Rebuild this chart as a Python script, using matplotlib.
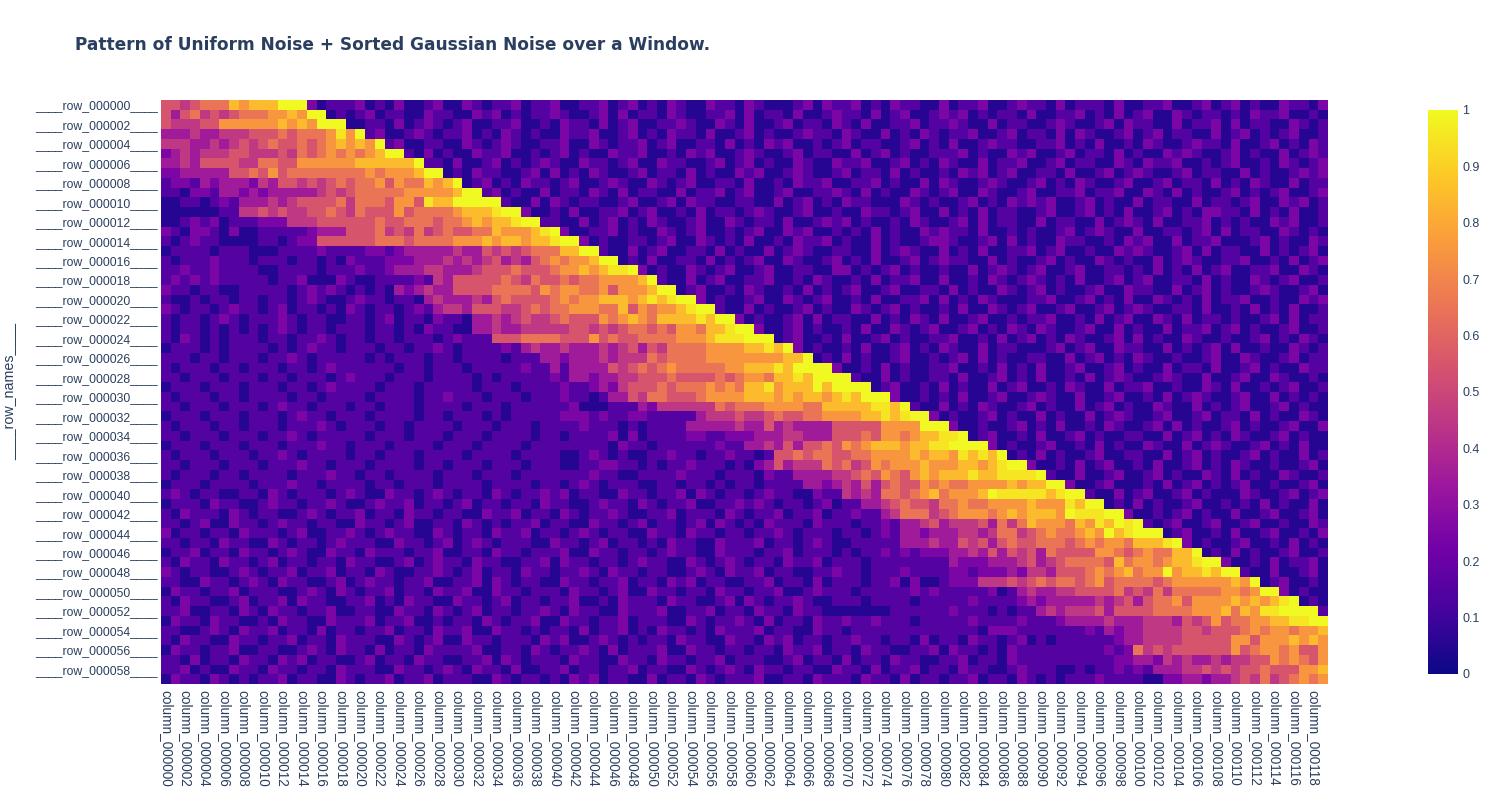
import matplotlib
matplotlib.use("Agg")
import matplotlib.pyplot as plt
import numpy as np
from matplotlib.colors import LinearSegmentedColormap

W, H = 1500, 800
TITLE = "Pattern of Uniform Noise + Sorted Gaussian Noise over a Window."
Y_TITLE = "____row_names____"
PLASMA = ["#0d0887", "#46039f", "#7201a8", "#9c179e", "#bd3786",
          "#d8576b", "#ed7953", "#fb9f3a", "#fdca26", "#f0f921"]
INK = "#2a3f5f"

# One character per cell: digit d = d/10 + 0.05, a = 1.0.
# Left of "|": columns up to the bright edge. Right of "|": the cells after it.
ROWS = """
5545666878 88aaa | 20111 2010200120 0210112011 2001120120 1021002110 2100012021 1201021100 2011200121 1020111020 0112001201 2010021102
5356454566 67787aa | 010 1201100211 0021201011 2100120201 1021001120 2011020012 1102012001 2120101102 0011201020 1200210110 1021120010
5444557777 778787aaa | 0 0110201210 1200112001 0211020120 0112100210 2001201102 1020011201 1210020110 0121001202 1100201120 2011002101
3334334445 5565666797 a | 120012101 1201021010 0211200120 1021102001 2010012110 2100201021 0112001201 1020210012 0120110020 1201012001
4443343454 5655656787 87a | 1200110 0210121001 1200210112 0120011020 1021200101 2011001201 0200121100 1120102001 0210012110 2001201021
2343444554 4454656767 678aa | 10201 0021120010 1201002112 0010212001 2100120110 0201201001 1120100212 0012011020 1002121001 2010020121
3343555544 6655777777 888888a | 110 2001201012 1002110120 0211001201 2010021002 1120012010 2100201120 0120110021 0211200101 2001021012
2233333556 5756666666 6767778aa | 0 1021100120 2010210012 0110201002 1200121001 2011020100 1021201200 1102001201 2100120110 0201001212
1221323332 4355454565 6675766878 a | 012010211 0120012100 2101200110 2001021120 0112010020 2100121001 2010210012 0012011020 1021002011
1102213323 2333334545 6666677777 8aa | 1201002 0110210201 1002011201 2001200112 1020100210 1200210012 0011201120 0210201001 2010120012
0011012133 3434555564 6665775988 aaaaa | 10020 2101100120 0120211001 1002012010 2110002101 0012010212 1200120100 2011002011 0120021201
0000001144 5454455654 6555756666 78889aa | 200 1020011201 2001020110 1210012001 0021101200 2010201100 1200120102 0012010221 1020102001
0012120111 2224445555 5565566656 6787889aa | 1 1002012010 2100120021 0110200121 2010010210 0120201100 2011002012 1020011201 0100212001
2102210200 1111123335 5564546456 5566877789 a | 200112010 0210120010 1200212001 0102010021 2110200101 0012012100 2001101202 0110021010
1012110000 1101225555 5566656666 7778788788 9aa | 2010011 0120021010 2001021120 1002010012 2100120201 0021100102 1200201120 0012010021
0111101110 0011112111 1221233333 4335454566 688aa | 10020 1200110201 0020121001 1002012100 2010200112 0120010021 2100120201 1002010120
1011121110 1110110102 1112223334 3434534356 76778aa | 010 2001102010 1200210012 0102001201 2110020100 1201002101 0020121001 1200102012
1121121111 0011110111 2112333443 3345556555 67787899a | 2 0100210120 0120011002 2010120100 1002012101 2001200110 1020102012 0011200210
1212121111 1011200021 0011112143 5555565465 5656677778 a | 100201200 1120010210 0102011200 2001021012 1010200120 1200110201 0021012001
2110110011 1110121210 1010323433 5555666657 6776675777 8aa | 0120010 2100102010 1200120011 0201002101 2010012002 1100201201 0012100120
1001011011 0110121001 2110110343 3343565555 6767788878 989aa | 20100 1200210120 0102001120 2010210001 1200120102 0021010201 1200100212
2101101211 0120110102 1011012134 4355544565 6677766857 6778 9aa | 100 2010012010 0210120100 1020021012 0012001201 2100110200 1020102001
1011012101 1121011001 1012011021 1033434544 5655576787 688889 8aa | 2 0100120201 1002010210 2001200101 1200102012 0021020110 1001202011
1011010101 0121011011 1011010211 0033433444 4455454566 565776889a a | 200120100 1020021012 0012010210 2100120020 1002011201 2010012001
1021010111 0110112101 1011011101 2111555666 6555756556 6667778999 aaa | 0120010 2001201001 1200102012 0102100120 2010021001 0012010210
0111010111 1010121101 1101101121 0111121343 3433343453 5466667777 8898a | 20100 1020012010 2100201100 0120120021 1002010120 2001002101
1110110111 0112101111 1010111011 0111101113 3233343444 6566667777 777788a | 010 2010012001 0120201001 1002012010 2100100120 0210012011
1011101101 1101101211 1111011011 1011111211 3133335456 5676666677 88898aaaa | 2 0010201001 1200102010 2001200120 1002011020 0120100211
1101110111 0110111012 1110111011 1101011111 2133233445 5565555656 7768898aaa a | 100201001 1020012010 2001020121 0012100200 1200210010
0111011101 1101101211 1101110111 1101110111 1211232455 5656667676 8897888a8a aaa | 0120010 2010020120 0102100201 1200100210 2001012001
1011101101 1110110111 1011110112 1110111011 1211013354 6655567777 8887878878 98aaa | 20010 1020012001 2100200120 0102012100 1200201010
1101110111 0121101110 1101110111 1011101111 1120001113 2444444656 6677776688 888998a | 100 2010210012 0100201201 0021002010 1200120100
0111011101 1101211011 1011110110 1110101111 1222121122 1111134445 4456556677 7788989aa | 2 0100120100 2010020121 0012001201 1020100210
1011101101 1101112101 1101101111 0111011101 1112111010 1111333334 3353433335 5555777 7aa a | 200100120 1020010210 0120201001 2010012002
1101110111 0112101111 1011101110 1110111101 1011112020 1111221122 2333443335 5565776788 99a | 0120010 2001201001 1002012010 2100120100
0111011101 1101112110 1110111101 1101111011 1111110211 0111111211 3343535565 7678887889 9aaaa | 20100 1200102010 0210020121 0012010200
1011101110 1121011110 1101110111 1011110111 1001210100 1121101121 1015565665 5667777878 8798 98a | 010 2010012001 1002012010 0120100201
1101110111 0111211011 1011110110 1110111011 1001122110 1011211101 0235344465 6457677787 778878 9aa | 2 0010201200 1020012010 2100100120
1011101101 1110111211 0110111101 1101110111 1111211001 1112111011 1021133334 4565765787 8889889999 a | 100200120 0120100210 2010021001
0111011110 1112110111 1011011101 1110111101 1012101110 0110110101 1011113323 4353565576 7667777878 8aa | 2001200 0102012010 1200100120
1210110011 0210111012 1002110121 0110210112 1201100211 0112021011 0121100211 4343665678 67778a9999 989aa | 10020 1200120100 0210012012
0111021100 1211011210 0121120110 1201101102 1100121102 1011200112 1210110120 1133456554 6676677778 777 98aa | 010 2010012001 0102010020
1021110210 1100121011 2011021101 1002112011 0210112100 1120111021 0112011201 1211346664 5677767878 887a999aa | 2 0010120100 2001200120
1101200211 0121101100 2110120011 0210101120 1100211012 0110120210 1021110211 1011213345 3444536468 7776879 8a9 a | 101200120 0120010021
2011011021 1101200112 1012110021 0110211201 1012101100 2110211011 0112101110 1101213323 3344346645 6766787a89 aaa | 0120010 2001200 102
1101102110 0210110121 1100211012 0121011100 2110120110 1021100211 1201101210 0111113334 3354535655 6665676776 8889a | 20100 1200102 010
0112011021 1012100211 0211101120 0110211011 1200211011 0121100211 1011201110 1011212122 2334353545 3655557765 6766 88a | 010 2010012 001
1021102110 1201101102 1100120121 1021100112 0211011012 1100210121 0110211201 1101111111 1322233345 3456666586 7767889aa | 2 0010201 120
2101100121 0112011201 1021001121 0120110211 0112102110 1100121021 1201100112 1101112111 1221222324 4355567678 677a78898a a | 100200120
1100211012 1021100120 1211011200 1120210110 0211011201 1021201100 1120110201 1101120200 1222444545 6566567566 6656777777 87a | 0120010
0211011201 1100121021 0112011021 1200211011 1021101200 2110110211 0112001211 1011111212 1111120134 3344555564 5464666667 767aa | 20100
1021100120 1120211001 1201021100 2110120110 1120010211 1021100120 2101121001 1101111011 1112111123 2333334345 3566757777 878789a | 010
1120011021 0211011200 1100211021 0120110112 1021100211 1200112011 0211021100 0000011111 1211101011 3434445355 5566667778 68799aaaa | 1
0211021100 1021100211 1201120010 1102101120 0211011201 1100210112 1020110211 2112111011 1112111121 1123333433 3444354575 6677889 9aa |
1100121021 1201102011 0112011021 1200211010 1102011201 0211010211 1201100211 0111111111 1111022211 1111121323 3444455455 5676776778 |
1021100211 0112011021 1100210120 0211011102 1200121010 1102110021 1021201101 1211011020 1102110120 1011111123 3444455555 7757778787 |
0211011200 1100121021 1020110211 1120011021 0112102011 1200211011 0110211201 1021100112 0211010211 1111111212 6454555555 7567767557 |
1102011021 1021201100 1201102110 0112021011 1021100211 0211011201 1100120110 2011021100 1120110211 1111111122 3324343343 4455767657 |
1120100211 0211011021 1100211012 1021102001 1201101120 1100210121 0211011002 1102011201 1021100121 1100101121 2133344545 4556555778 |
0211021010 1120110021 0112011201 1100210110 1021201100 2011021011 1200110211 1021102011 0112011021 0101112111 1002233233 4546456767 |
""".strip().splitlines()


def decode(text):
    band, tail = text.split("|")
    chars = (band + tail).replace(" ", "")[:120]
    return [1.0 if c == "a" else int(c) / 10 + 0.05 for c in chars]


values = np.array([decode(r) for r in ROWS])
n_rows, n_cols = values.shape
row_names = [f"____row_{i:06d}____" for i in range(n_rows)]
col_names = [f"column_{i:06d}" for i in range(n_cols)]

cmap = LinearSegmentedColormap.from_list("plotly_plasma", PLASMA)
fig = plt.figure(figsize=(W / 100, H / 100), dpi=100, facecolor="white")


def box(x0, y0, x1, y1):
    return [x0 / W, 1 - y1 / H, (x1 - x0) / W, (y1 - y0) / H]


ax = fig.add_axes(box(161, 100, 1328, 684))
im = ax.imshow(values, cmap=cmap, vmin=0, vmax=1, aspect="auto", interpolation="nearest")
for s in ax.spines.values():
    s.set_visible(False)
ax.set_xticks(range(0, n_cols, 2), col_names[::2], rotation=270, ha="center", va="top",
              fontsize=9.8, color=INK, family="Liberation Sans")
ax.set_yticks(range(0, n_rows, 2), row_names[::2], fontsize=8.8, color=INK,
              family="Liberation Sans", va="center_baseline")
ax.tick_params(axis="x", length=0, pad=4)
ax.tick_params(axis="y", length=0, pad=2)

fig.text(10 / W, 1 - 392 / H, Y_TITLE, rotation=90, ha="center", va="center",
         fontsize=10.3, color=INK, family="Liberation Sans")
fig.text(75 / W, 1 - 44.5 / H, TITLE, ha="left", va="center", fontsize=12.22,
         fontweight="bold", color=INK, family="DejaVu Sans")

cax = fig.add_axes(box(1428, 110, 1458, 674))
cb = fig.colorbar(im, cax=cax)
cb.outline.set_visible(False)
cb.set_ticks(np.arange(0, 1.01, 0.1), labels=["0", "0.1", "0.2", "0.3", "0.4", "0.5", "0.6", "0.7", "0.8", "0.9", "1"])
cax.tick_params(length=0, pad=3, labelsize=9, labelcolor=INK)
for t in cax.get_yticklabels():
    t.set_family("Liberation Sans")

fig.savefig("out.png", dpi=100)
